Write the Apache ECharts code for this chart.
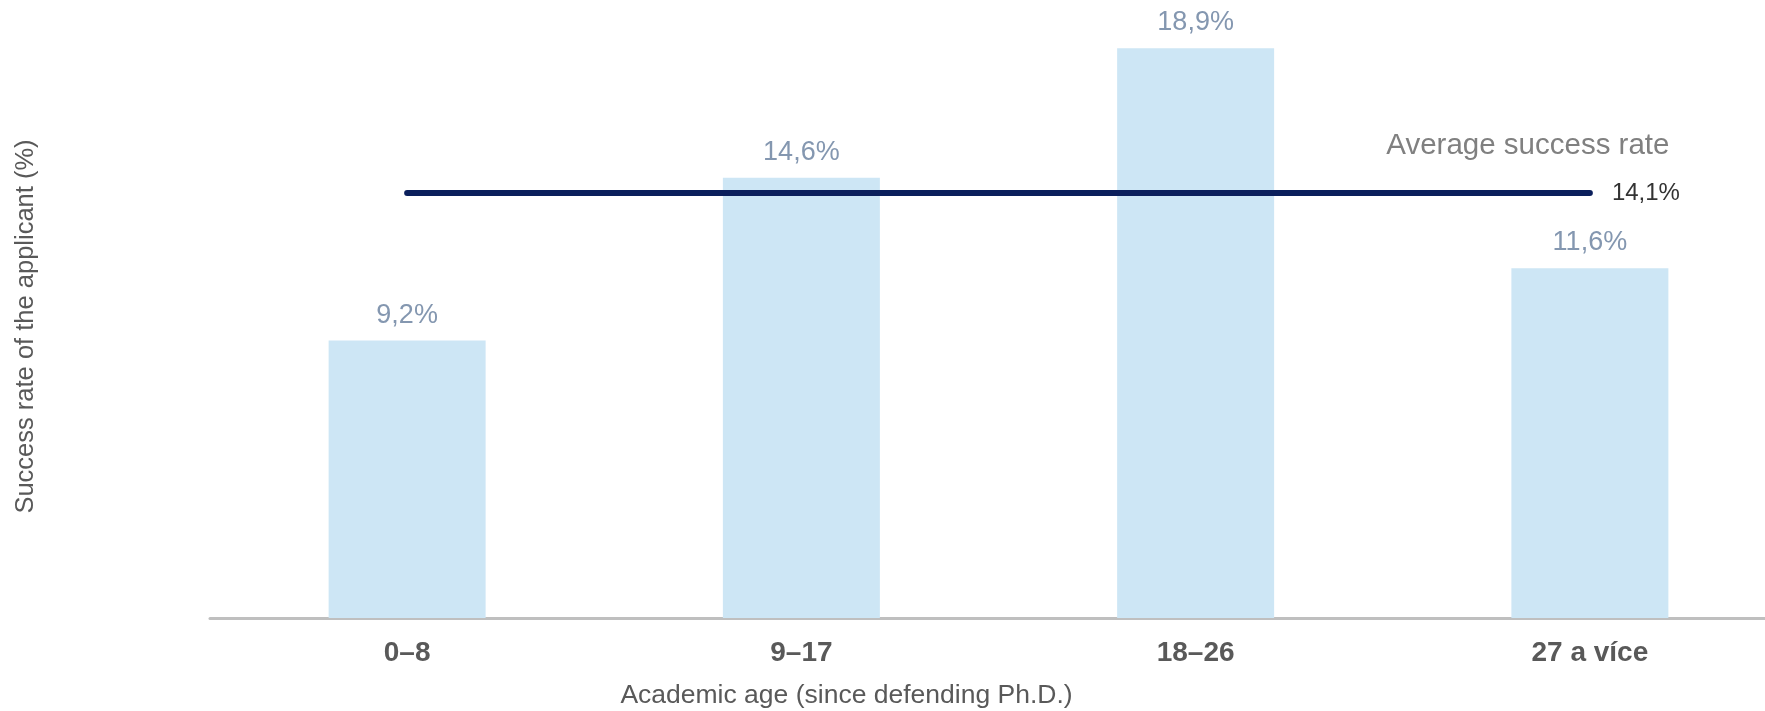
<!DOCTYPE html>
<html>
<head>
<meta charset="utf-8">
<script src="https://cdn.jsdelivr.net/npm/echarts@6/dist/echarts.min.js"></script>
<style>
  html, body { margin: 0; padding: 0; background: #ffffff; }
  #chart { width: 1765px; height: 711px; }
</style>
</head>
<body>
<div id="chart"></div>
<script>
const categories = ['0–8', '9–17', '18–26', '27 a více'];
const successRates = [9.2, 14.6, 18.9, 11.6];
const averageRate = 14.1;
const averageLabel = 'Average success rate';
const xAxisTitle = 'Academic age (since defending Ph.D.)';
const yAxisTitle = 'Success rate of the applicant (%)';

const fmt = v => v.toFixed(1).replace('.', ',') + '%';
const FONT = '"Liberation Sans", Arial, sans-serif';

const avgData = categories.map(() => averageRate);

const chart = echarts.init(document.getElementById('chart'), null, { renderer: 'canvas' });
chart.setOption({
  animation: false,
  backgroundColor: '#ffffff',
  textStyle: { fontFamily: FONT },
  grid: { left: 210, top: 15, bottom: 93, width: 1577, containLabel: false, outerBoundsMode: 'none' },
  xAxis: {
    type: 'category',
    data: categories,
    boundaryGap: true,
    axisLine: { show: true, lineStyle: { color: '#bfbfbf', width: 3 } },
    axisTick: { show: false },
    axisLabel: { fontSize: 28, fontWeight: 'bold', color: '#595959', margin: 21, fontFamily: FONT },
    name: xAxisTitle,
    nameLocation: 'middle',
    nameGap: 64,
    nameTextStyle: { fontSize: 26.5, color: '#595959', fontFamily: FONT, padding: [0, 304, 0, 0] }
  },
  yAxis: {
    type: 'value',
    min: 0,
    max: 20,
    axisLine: { show: false },
    axisTick: { show: false },
    axisLabel: { show: false },
    splitLine: { show: false },
    name: yAxisTitle,
    nameLocation: 'middle',
    nameGap: 171,
    nameTextStyle: { fontSize: 25.5, color: '#595959', fontFamily: FONT, padding: [0, 20, 0, 0] }
  },
  series: [
    {
      type: 'bar',
      data: successRates,
      barWidth: 157,
      itemStyle: { color: '#cde6f5' },
      label: {
        show: true,
        position: 'top',
        distance: 12,
        fontSize: 27,
        color: '#8497b0',
        fontFamily: FONT,
        formatter: p => fmt(p.value)
      },
      z: 1
    },
    {
      type: 'line',
      data: avgData,
      symbol: 'none',
      lineStyle: { color: '#0b1f5c', width: 6, cap: 'round' },
      label: { show: false },
      endLabel: {
        show: true,
        formatter: () => fmt(averageRate),
        fontSize: 24,
        color: '#333333',
        fontFamily: FONT,
        distance: 22
      },
      markPoint: {
        symbol: 'circle',
        symbolSize: 0,
        silent: true,
        data: [{
          coord: [categories.length - 1, averageRate],
          label: {
            show: true,
            position: 'top',
            formatter: averageLabel,
            fontSize: 29.5,
            color: '#808080',
            fontFamily: FONT,
            distance: 32,
            offset: [-62, 0]
          }
        }]
      },
      z: 3
    }
  ]
});
</script>
</body>
</html>
